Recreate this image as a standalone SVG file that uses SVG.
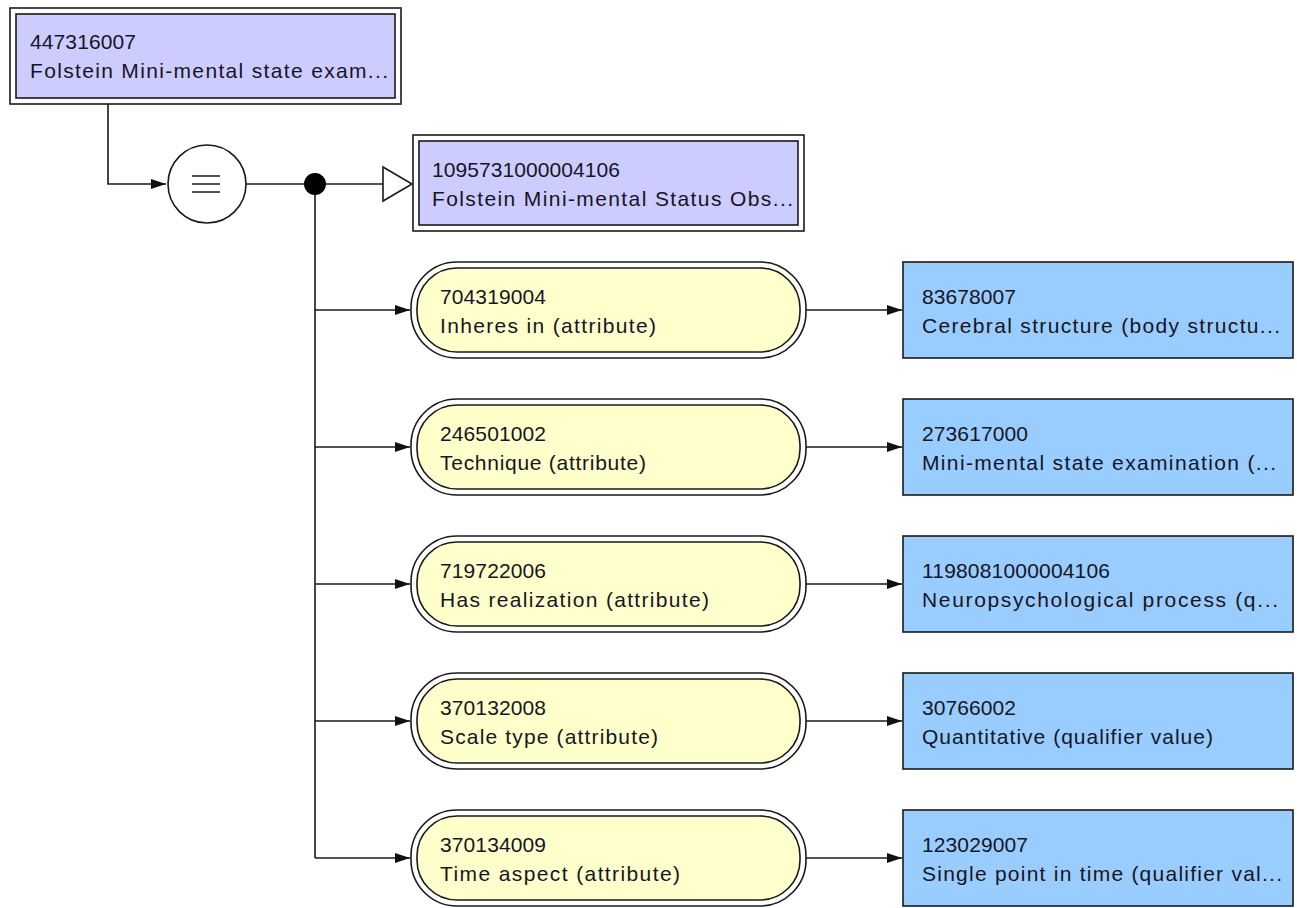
<svg xmlns="http://www.w3.org/2000/svg" width="1297" height="908" viewBox="0 0 1297 908">
<style>
.t{font-family:"Liberation Sans",Arial,sans-serif;font-size:21px;fill:#17151f}
.ln{fill:none;stroke:#1a1a1a;stroke-width:1.6}
.ob{fill:#fff;stroke:#1a1a1a;stroke-width:1.6}
.pc{fill:#ccccff;stroke:#1a1a1a;stroke-width:1.6}
.at{fill:#ffffcc;stroke:#1a1a1a;stroke-width:1.6}
.vl{fill:#99ccff;stroke:#1a1a1a;stroke-width:1.6}
</style>
<defs>
<marker id="ar" markerUnits="userSpaceOnUse" markerWidth="16" markerHeight="12" refX="15" refY="6" orient="auto">
<path d="M0,1 L15,6 L0,11 z" fill="#111"/>
</marker>
</defs>
<g id="connectors">
<path class="ln" d="M108,104 V184 H166" marker-end="url(#ar)"/>
<path class="ln" d="M246,184 H383"/>
<polygon points="383,167 412,184 383,201" fill="#fff" stroke="#1a1a1a" stroke-width="1.6"/>
<path class="ln" d="M315,184 V858"/>
<path class="ln" d="M315,310 H410" marker-end="url(#ar)"/>
<path class="ln" d="M315,447 H410" marker-end="url(#ar)"/>
<path class="ln" d="M315,584 H410" marker-end="url(#ar)"/>
<path class="ln" d="M315,721 H410" marker-end="url(#ar)"/>
<path class="ln" d="M315,858 H410" marker-end="url(#ar)"/>
<path class="ln" d="M806,310 H902" marker-end="url(#ar)"/>
<path class="ln" d="M806,447 H902" marker-end="url(#ar)"/>
<path class="ln" d="M806,584 H902" marker-end="url(#ar)"/>
<path class="ln" d="M806,721 H902" marker-end="url(#ar)"/>
<path class="ln" d="M806,858 H902" marker-end="url(#ar)"/>
<circle cx="315" cy="184" r="11" fill="#000"/>
</g>
<g id="n447316007">
<rect class="ob" x="10" y="8" width="391" height="96"/>
<rect class="pc" x="16" y="14" width="379" height="84"/>
<text class="t" x="30" y="49" textLength="106" lengthAdjust="spacing">447316007</text>
<text class="t" x="30" y="78" textLength="358" lengthAdjust="spacing">Folstein Mini-mental state exam...</text>
</g>
<g id="equiv">
<circle cx="207" cy="184" r="39" fill="#fff" stroke="#1a1a1a" stroke-width="1.6"/>
<path class="ln" d="M192,176 H220 M192,184 H220 M192,192 H220"/>
</g>
<g id="n1095731000004106">
<rect class="ob" x="413" y="135" width="391" height="96"/>
<rect class="pc" x="419" y="141" width="379" height="84"/>
<text class="t" x="432" y="177" textLength="188" lengthAdjust="spacing">1095731000004106</text>
<text class="t" x="432" y="206" textLength="361" lengthAdjust="spacing">Folstein Mini-mental Status Obs...</text>
</g>
<g id="a704319004">
<rect class="ob" x="411" y="262" width="395" height="96" rx="46" ry="46"/>
<rect class="at" x="417" y="268" width="383" height="84" rx="40" ry="40"/>
<text class="t" x="440" y="304" textLength="106" lengthAdjust="spacing">704319004</text>
<text class="t" x="440" y="333" textLength="216" lengthAdjust="spacing">Inheres in (attribute)</text>
</g>
<g id="v83678007">
<rect class="vl" x="903" y="262" width="390" height="96"/>
<text class="t" x="922" y="304" textLength="94" lengthAdjust="spacing">83678007</text>
<text class="t" x="922" y="333" textLength="358" lengthAdjust="spacing">Cerebral structure (body structu...</text>
</g>
<g id="a246501002">
<rect class="ob" x="411" y="399" width="395" height="96" rx="46" ry="46"/>
<rect class="at" x="417" y="405" width="383" height="84" rx="40" ry="40"/>
<text class="t" x="440" y="441" textLength="106" lengthAdjust="spacing">246501002</text>
<text class="t" x="440" y="470" textLength="206" lengthAdjust="spacing">Technique (attribute)</text>
</g>
<g id="v273617000">
<rect class="vl" x="903" y="399" width="390" height="96"/>
<text class="t" x="922" y="441" textLength="106" lengthAdjust="spacing">273617000</text>
<text class="t" x="922" y="470" textLength="354" lengthAdjust="spacing">Mini-mental state examination (...</text>
</g>
<g id="a719722006">
<rect class="ob" x="411" y="536" width="395" height="96" rx="46" ry="46"/>
<rect class="at" x="417" y="542" width="383" height="84" rx="40" ry="40"/>
<text class="t" x="440" y="578" textLength="106" lengthAdjust="spacing">719722006</text>
<text class="t" x="440" y="607" textLength="269" lengthAdjust="spacing">Has realization (attribute)</text>
</g>
<g id="v1198081000004106">
<rect class="vl" x="903" y="536" width="390" height="96"/>
<text class="t" x="922" y="578" textLength="188" lengthAdjust="spacing">1198081000004106</text>
<text class="t" x="922" y="607" textLength="356" lengthAdjust="spacing">Neuropsychological process (q...</text>
</g>
<g id="a370132008">
<rect class="ob" x="411" y="673" width="395" height="96" rx="46" ry="46"/>
<rect class="at" x="417" y="679" width="383" height="84" rx="40" ry="40"/>
<text class="t" x="440" y="715" textLength="106" lengthAdjust="spacing">370132008</text>
<text class="t" x="440" y="744" textLength="218" lengthAdjust="spacing">Scale type (attribute)</text>
</g>
<g id="v30766002">
<rect class="vl" x="903" y="673" width="390" height="96"/>
<text class="t" x="922" y="715" textLength="94" lengthAdjust="spacing">30766002</text>
<text class="t" x="922" y="744" textLength="291" lengthAdjust="spacing">Quantitative (qualifier value)</text>
</g>
<g id="a370134009">
<rect class="ob" x="411" y="810" width="395" height="96" rx="46" ry="46"/>
<rect class="at" x="417" y="816" width="383" height="84" rx="40" ry="40"/>
<text class="t" x="440" y="852" textLength="106" lengthAdjust="spacing">370134009</text>
<text class="t" x="440" y="881" textLength="240" lengthAdjust="spacing">Time aspect (attribute)</text>
</g>
<g id="v123029007">
<rect class="vl" x="903" y="810" width="390" height="96"/>
<text class="t" x="922" y="852" textLength="106" lengthAdjust="spacing">123029007</text>
<text class="t" x="922" y="881" textLength="360" lengthAdjust="spacing">Single point in time (qualifier val...</text>
</g>
</svg>
